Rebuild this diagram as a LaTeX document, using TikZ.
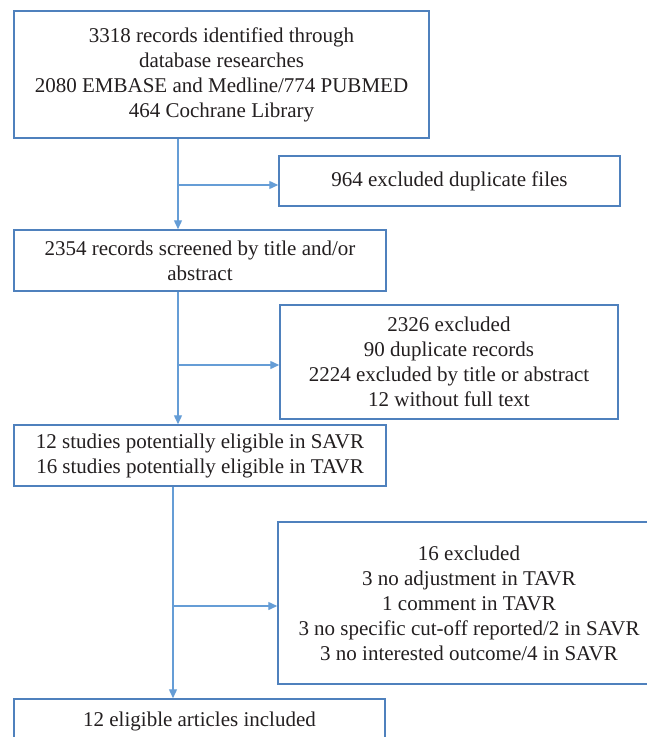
\documentclass[tikz,border=0pt]{standalone}
\usepackage{fontspec}
\setmainfont{Liberation Serif}
\usepackage{tikz}
\usetikzlibrary{arrows.meta, positioning, calc}
\definecolor{boxblue}{RGB}{79, 129, 189}
\definecolor{flowblue}{RGB}{101, 157, 214}
\definecolor{inkgray}{RGB}{35, 31, 32}

\begin{document}
\begin{tikzpicture}[x=1pt, y=-1pt,
    stagebox/.style={draw=boxblue, line width=1.5pt, fill=white, text=inkgray, align=center, inner sep=0pt,
      font=\fontsize{21}{25}\selectfont},
    flow/.style={draw=flowblue, line width=1.4pt, -{Triangle[length=9pt, width=8pt]}}]
  \useasboundingbox (0,0) rectangle (647,737);

  % Identification
  \node[stagebox, minimum width=415pt, minimum height=127pt] (ident) at (221.5, 74.5)
    {3318 records identified through\\database researches\\2080 EMBASE and Medline/774 PUBMED\\464 Cochrane Library};
  \node[stagebox, minimum width=341pt, minimum height=50pt] (dupl) at (449.5, 181)
    {964 excluded duplicate files};

  % Screening
  \node[stagebox, minimum width=372pt, minimum height=61pt] (screen) at (200, 260.5)
    {2354 records screened by title and/or\\abstract};
  \node[stagebox, minimum width=338pt, minimum height=114pt] (screenout) at (449, 362)
    {2326 excluded\\90 duplicate records\\2224 excluded by title or abstract\\12 without full text};

  % Eligibility
  \node[stagebox, minimum width=372pt, minimum height=61pt] (elig) at (200, 455.5)
    {12 studies potentially eligible in SAVR\\16 studies potentially eligible in TAVR};
  \node[stagebox, minimum width=382pt, minimum height=162pt] (eligout) at (469, 603)
    {16 excluded\\3 no adjustment in TAVR\\1 comment in TAVR\\3 no specific cut-off reported/2 in SAVR\\3 no interested outcome/4 in SAVR};

  % Included
  \node[stagebox, minimum width=371pt, minimum height=44pt] (incl) at (199.5, 721)
    {12 eligible articles included};

  % connectors
  \coordinate (j1) at (178, 185);
  \coordinate (j2) at (178, 365);
  \coordinate (j3) at (173, 606);
  \draw[flow] (ident.south -| j1) -- (screen.north -| j1);
  \draw[flow] (j1) -- (dupl.west |- j1);
  \draw[flow] (screen.south -| j2) -- (elig.north -| j2);
  \draw[flow] (j2) -- (screenout.west |- j2);
  \draw[flow] (elig.south -| j3) -- (incl.north -| j3);
  \draw[flow] (j3) -- (eligout.west |- j3);
\end{tikzpicture}
\end{document}
